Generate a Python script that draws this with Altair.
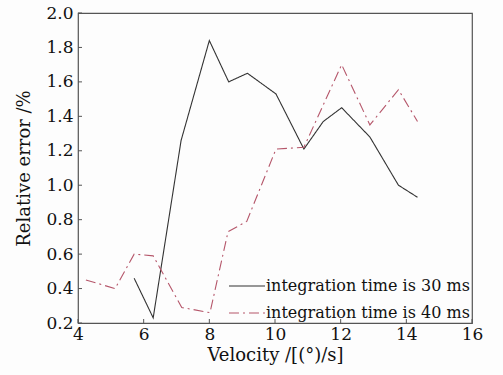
import altair as alt
import pandas as pd

# series 1: integration time 30 ms
x30 = [5.71, 6.29, 7.14, 8.00, 8.59, 9.16, 10.03, 10.88, 11.47, 12.03, 12.89, 13.76, 14.34]
y30 = [0.46, 0.23, 1.26, 1.84, 1.60, 1.65, 1.53, 1.21, 1.37, 1.45, 1.28, 1.00, 0.93]
# series 2: integration time 40 ms
x40 = [4.24, 5.13, 5.71, 6.29, 7.16, 8.02, 8.57, 9.14, 10.03, 10.88, 12.03, 12.89, 13.76, 14.34]
y40 = [0.45, 0.40, 0.60, 0.59, 0.29, 0.26, 0.73, 0.79, 1.21, 1.22, 1.70, 1.35, 1.555, 1.37]

names = ["integration time is 30 ms", "integration time is 40 ms"]
xticks = [4, 6, 8, 10, 12, 14, 16]
yticks = [0.2, 0.4, 0.6, 0.8, 1.0, 1.2, 1.4, 1.6, 1.8, 2.0]

rows = [{"v": a, "e": b, "s": names[0], "o": i} for i, (a, b) in enumerate(zip(x30, y30))]
rows += [{"v": a, "e": b, "s": names[1], "o": i} for i, (a, b) in enumerate(zip(x40, y40))]
df = pd.DataFrame(rows)

FONT = "DejaVu Serif"
W, H = 394, 310

xs = alt.Scale(domain=[4, 16], nice=False, zero=False)
ys = alt.Scale(domain=[0.2, 2.0], nice=False, zero=False)

xaxis = alt.Axis(values=xticks, title="Velocity /[(°)/s]", format="d",
                 domain=False, ticks=False, grid=False, labelPadding=3,
                 labelOverlap=False, labelFlush=False,
                 labelFontSize=17, labelColor="#111",
                 titleFontSize=18, titleFontWeight="normal",
                 titleColor="#111", titlePadding=4)
yaxis = alt.Axis(values=yticks, title="Relative error /%", format=".1f",
                 domain=False, ticks=False, grid=False, labelPadding=5,
                 labelOverlap=False, labelFlush=False,
                 labelFontSize=17, labelColor="#111",
                 titleFontSize=18, titleFontWeight="normal",
                 titleColor="#111", titlePadding=12)

lines = alt.Chart(df).mark_line(strokeWidth=1.1).encode(
    x=alt.X("v:Q", scale=xs, axis=xaxis),
    y=alt.Y("e:Q", scale=ys, axis=yaxis),
    order="o:Q",
    color=alt.Color("s:N", scale=alt.Scale(domain=names, range=["#333333", "#b5566a"]),
                    legend=alt.Legend(title=None, orient="bottom-right", offset=2,
                                      labelFontSize=16, labelColor="#111",
                                      labelLimit=0,
                                      symbolType="stroke", symbolSize=1300,
                                      symbolStrokeWidth=1.2, rowPadding=0,
                                      labelOffset=0, padding=0)),
    strokeDash=alt.StrokeDash("s:N", scale=alt.Scale(domain=names, range=[[1, 0], [10, 4, 2, 4]]),
                              legend=None),
)

xt = pd.DataFrame({"t": xticks})
yt = pd.DataFrame({"t": yticks})
xtick_rules = alt.Chart(xt).mark_rule(color="#555", strokeWidth=1).encode(
    x=alt.X("t:Q", scale=xs, axis=xaxis), y=alt.value(H), y2=alt.value(H - 4))
ytick_rules = alt.Chart(yt).mark_rule(color="#555", strokeWidth=1).encode(
    y=alt.Y("t:Q", scale=ys, axis=yaxis), x=alt.value(0), x2=alt.value(4))

chart = alt.layer(lines, xtick_rules, ytick_rules).properties(
    width=W, height=H,
    autosize=alt.AutoSizeParams(type="none"),
    padding={"left": 78, "top": 13, "right": 31, "bottom": 52},
    background="#fdfdfd",
).configure(font=FONT).configure_axis(
    labelFont=FONT, titleFont=FONT
).configure_legend(labelFont=FONT).configure_view(stroke="#555", strokeWidth=1.2)

chart.save("out.html", embed_options={"renderer": "svg", "actions": False})
